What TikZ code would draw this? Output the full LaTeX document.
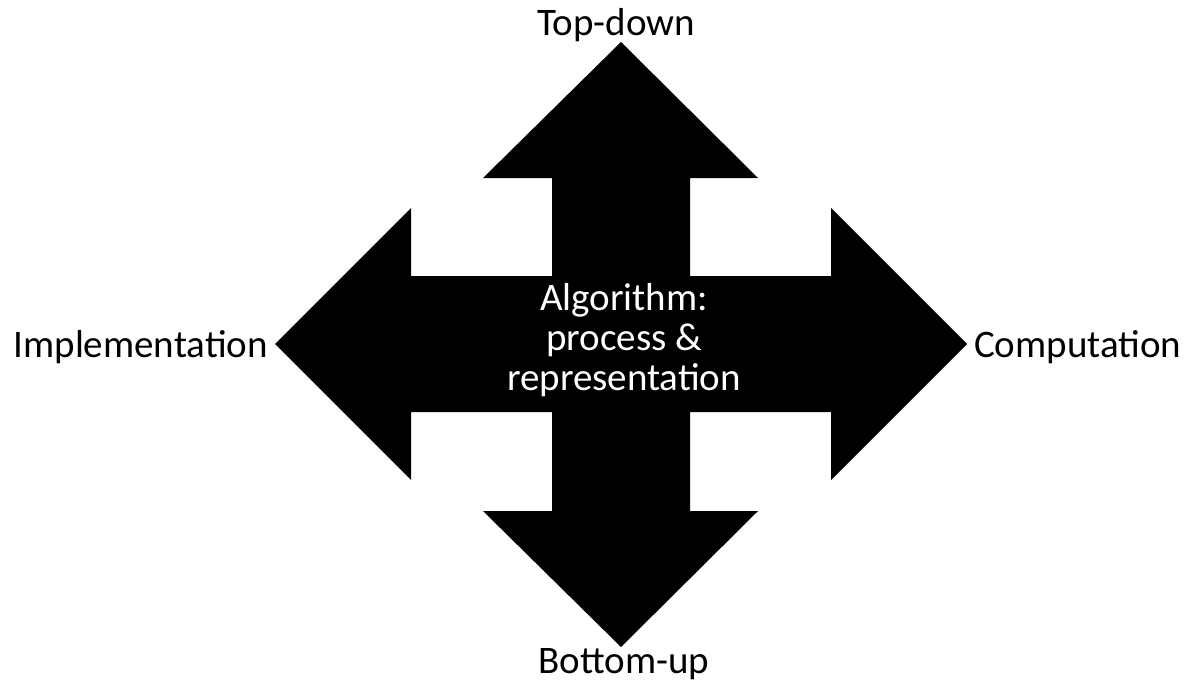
\documentclass[tikz,border=0pt]{standalone}
\usepackage{fontspec}
\setmainfont{Carlito}
\begin{document}
\begin{tikzpicture}[x=1pt,y=-1pt,
  lbl/.style={inner sep=0pt,font=\fontsize{39}{40}\selectfont},
  shapefill/.style={fill=black,draw=none}]
\useasboundingbox (0,0) rectangle (1194,682);
\fill[white] (0,0) rectangle (1194,682);
% four-way arrow
\path[shapefill] (621,42) -- (758,178) -- (690,178) -- (690,276) -- (831,276) -- (831,208)
  -- (967,344) -- (831,480) -- (831,412) -- (690,412) -- (690,511) -- (758,511)
  -- (621,647) -- (483,511) -- (552,511) -- (552,412) -- (411,412) -- (411,480)
  -- (275,344) -- (411,208) -- (411,276) -- (552,276) -- (552,178) -- (483,178) -- cycle;
\node[lbl,anchor=base] (top) at (616,36) {Top-down};
\node[lbl,anchor=base] (bottom) at (624,673) {Bottom-up};
\node[lbl,anchor=base east] (left) at (268,357) {Implementation};
\node[lbl,anchor=base west] (right) at (974,357) {Computation};
\node[lbl,align=center,text=white] (center) at (624,340) {Algorithm:\\process \&\\representation};
\end{tikzpicture}
\end{document}
